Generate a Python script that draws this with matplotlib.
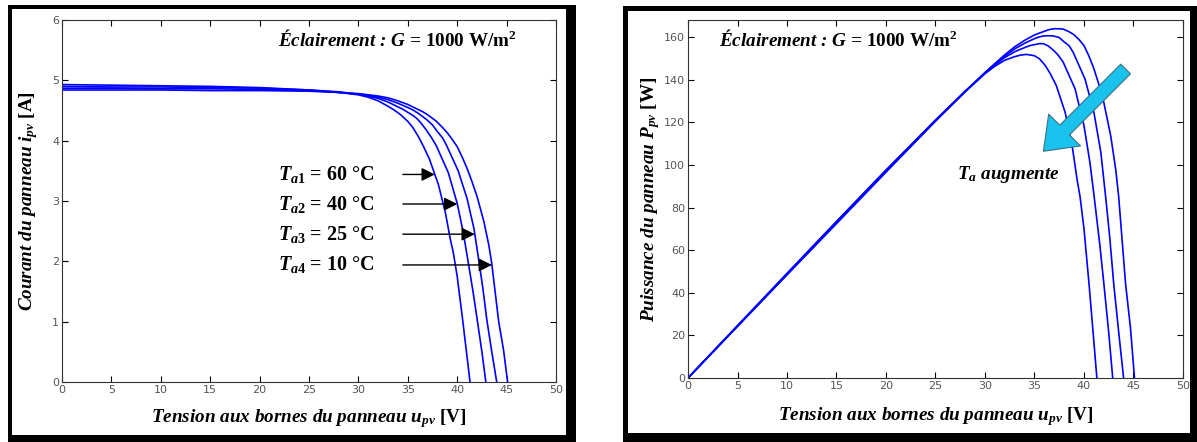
import numpy as np
import matplotlib
matplotlib.use('Agg')
import matplotlib.pyplot as plt
from matplotlib.patches import Rectangle

plt.rcParams['mathtext.fontset'] = 'custom'
plt.rcParams['mathtext.rm'] = 'Liberation Serif:bold'
plt.rcParams['mathtext.it'] = 'Liberation Serif:italic:bold'
plt.rcParams['mathtext.bf'] = 'Liberation Serif:bold'

#%% courbes I-V (G = 1000 W/m2)
temps = [60, 40, 25, 10]

v_60 = [0, 5, 10, 15, 20, 25, 28, 30, 31, 32, 33, 33.6, 34.2, 34.6, 35, 35.5, 36.1, 36.6, 37.2, 38.1, 38.8,
        39.3, 39.6, 40.0, 40.5, 40.9, 41.3]
i_60 = [4.93, 4.92, 4.91, 4.90, 4.88, 4.84, 4.80, 4.76, 4.72, 4.66, 4.57, 4.51, 4.44, 4.38, 4.32, 4.22, 4.06, 3.90,
        3.69, 3.27, 2.81, 2.37, 2.15, 1.75, 1.10, 0.55, 0]

v_40 = [0, 5, 10, 15, 20, 25, 28, 30, 31, 32, 33, 33.5, 34, 34.5, 35, 35.5, 35.9, 36.4, 36.9, 37.4, 37.9, 39.1,
        40.0, 40.6, 41.0, 41.2, 41.6, 42.0, 42.5, 42.9]
i_40 = [4.90, 4.89, 4.89, 4.88, 4.87, 4.84, 4.81, 4.77, 4.74, 4.70, 4.64, 4.60, 4.56, 4.52, 4.47, 4.42, 4.37, 4.28,
        4.17, 4.05, 3.91, 3.47, 2.96, 2.49, 2.10, 1.90, 1.50, 1.06, 0.50, 0]

v_25 = [0, 5, 10, 15, 20, 25, 28, 30, 31, 32, 33, 34, 35, 35.5, 36, 36.5, 36.9, 37.5, 38, 38.5, 38.9, 40.1,
        41.0, 41.7, 42.2, 42.6, 43.0, 43.5, 44.0]
i_25 = [4.87, 4.87, 4.86, 4.86, 4.85, 4.83, 4.80, 4.77, 4.75, 4.72, 4.68, 4.62, 4.55, 4.51, 4.46, 4.40, 4.35, 4.26,
        4.15, 4.05, 3.93, 3.50, 3.04, 2.54, 2.00, 1.55, 1.03, 0.50, 0]

v_10 = [0, 5, 10, 15, 20, 25, 28, 30, 31, 32, 33, 34, 35, 36, 36.5, 37, 37.5, 37.9, 38.5, 39, 39.5, 40.0, 40.5,
        41.0, 41.5, 42.0, 42.7, 43.2, 43.5, 44.2, 44.7, 45.1]
i_10 = [4.84, 4.84, 4.84, 4.83, 4.83, 4.82, 4.80, 4.78, 4.76, 4.74, 4.71, 4.66, 4.60, 4.52, 4.48, 4.43, 4.37, 4.32,
        4.22, 4.13, 4.02, 3.90, 3.73, 3.54, 3.32, 3.08, 2.66, 2.27, 1.96, 1.00, 0.52, 0]

volts = [v_60, v_40, v_25, v_10]
amps = [i_60, i_40, i_25, i_10]

# hauteur des fleches (courant, A)
arrow_levels = [3.44, 2.95, 2.45, 1.94]

W, H = 1197, 442
fig = plt.figure(figsize=(W / 100, H / 100), dpi=100)


def px_rect(x0, y0, x1, y1, color, z):
    fig.add_artist(Rectangle((x0 / W, 1 - y1 / H), (x1 - x0) / W, (y1 - y0) / H,
                             transform=fig.transFigure, fc=color, ec='none', zorder=z))


# cadres noirs
px_rect(8, 5, 576, 442, 'black', -3)
px_rect(12, 9, 566, 435, 'white', -2)
px_rect(623, 6, 1197, 442, 'black', -3)
px_rect(628, 11, 1190, 433, 'white', -2)

ax1 = fig.add_axes([62 / W, 1 - 382 / H, 494 / W, 362 / H])
ax2 = fig.add_axes([688 / W, 1 - 378 / H, 495 / W, 358 / H])

for ax in (ax1, ax2):
    ax.tick_params(direction='in', top=True, right=True, length=4, width=0.8,
                   labelsize=8, labelcolor='#555555', pad=2)
    for s in ax.spines.values():
        s.set_linewidth(0.8)
        s.set_color('#333333')
    ax.set_xlim(0, 50)
    ax.set_xticks(np.arange(0, 51, 5))

lab_kw = dict(fontfamily='Liberation Serif', fontstyle='italic', fontweight='bold', fontsize=13.8)
titre = r'Éclairement : $G$ = $\mathrm{1000\ W/m^{2}}$'

#%% I-V
for v, i in zip(volts, amps):
    ax1.plot(v, i, color='#0000ff', lw=1.2)

ax1.set_ylim(0, 6)
ax1.set_yticks(range(0, 7))
ax1.set_xlabel(r'Tension aux bornes du panneau $u_{pv}$ $\mathrm{[V]}$', **lab_kw)
ax1.set_ylabel(r'Courant du panneau $i_{pv}$ $\mathrm{[A]}$', **lab_kw)
ax1.xaxis.set_label_coords(0.5, -0.069)
ax1.yaxis.set_label_coords(-0.045, 0.5)

ax1.text(21.9, 5.67, titre, ha='left', va='center', **lab_kw)

for k, (t, lvl) in enumerate(zip(temps, arrow_levels)):
    v, i = volts[k], amps[k]
    tip = np.interp(lvl, i[::-1], v[::-1])
    ax1.text(21.9, lvl, r'$T_{a%d}$' % (k + 1) + ' = %d °C' % t, ha='left', va='center',
             fontfamily='Liberation Serif', fontweight='bold', fontsize=14.5)
    ax1.annotate('', xy=(tip, lvl), xytext=(34.5, lvl),
                 arrowprops=dict(arrowstyle='-|>', color='black', lw=1.0, mutation_scale=20,
                                 shrinkA=0, shrinkB=0))

#%% P-V
for v, i in zip(volts, amps):
    ax2.plot(v, np.array(v) * np.array(i), color='#0000ff', lw=1.2)

ax2.set_ylim(0, 168)
ax2.set_yticks(range(0, 161, 20))
ax2.set_xlabel(r'Tension aux bornes du panneau $u_{pv}$ $\mathrm{[V]}$', **lab_kw)
ax2.set_ylabel(r'Puissance du panneau $P_{pv}$ $\mathrm{[W]}$', **lab_kw)
ax2.xaxis.set_label_coords(0.5, -0.075)
ax2.yaxis.set_label_coords(-0.052, 0.5)

ax2.text(3.1, 159, titre, ha='left', va='center', **lab_kw)

ax2.annotate('', xy=(35.9, 106.4), xytext=(44.2, 145),
             arrowprops=dict(arrowstyle='simple,tail_width=0.55,head_width=1.8,head_length=1.2',
                             mutation_scale=18, fc='#19c3ee', ec='#3a7080', lw=0.8,
                             shrinkA=0, shrinkB=0))
ax2.text(27.2, 95.5, r'$T_a$ augmente', ha='left', va='center', **lab_kw)

plt.savefig('out.png', dpi=100)
